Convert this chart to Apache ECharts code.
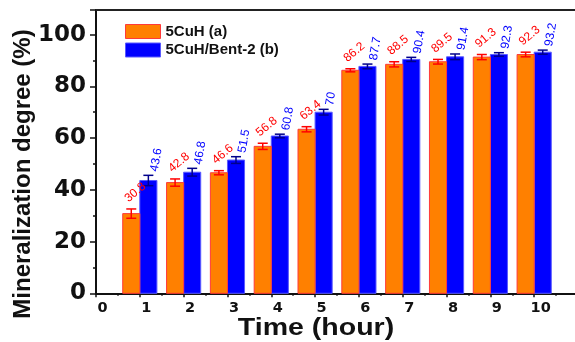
<!DOCTYPE html>
<html>
<head>
<meta charset="utf-8">
<script src="https://cdn.jsdelivr.net/npm/echarts@6/dist/echarts.min.js"></script>
<style>
  html, body { margin: 0; padding: 0; background: #fff; }
  #chart { width: 575px; height: 342px; }
</style>
</head>
<body>
<div id="chart"></div>
<script>
// Mineralization degree over time for the two catalysts
const hours = [1, 2, 3, 4, 5, 6, 7, 8, 9, 10];
const cuhValues = [30.8, 42.8, 46.6, 56.8, 63.4, 86.2, 88.5, 89.5, 91.3, 92.3];
const cuhErrors = [1.8, 1.4, 0.8, 1.2, 1.0, 0.6, 1.0, 0.9, 1.0, 0.9];
const bentValues = [43.6, 46.8, 51.5, 60.8, 70, 87.7, 90.4, 91.4, 92.3, 93.2];
const bentErrors = [2.0, 1.5, 1.3, 0.7, 1.1, 0.9, 0.8, 1.1, 0.7, 0.8];
const xTickLabels = ['0', '1', '2', '3', '4', '5', '6', '7', '8', '9', '10'];
const yTickLabels = ['0', '20', '40', '60', '80', '100'];

const seriesNames = ['5CuH (a)', '5CuH/Bent-2 (b)'];

const BAR_W = 0.39; // bar width in hours

function barRenderer(side, fill, stroke, errColor, labelColor, angleDeg, dx, dy) {
  return function (params, api) {
    const x = api.value(0), v = api.value(1), e = api.value(2);
    const base = api.coord([x, 0]);
    const top = api.coord([x, v]);
    const edge = api.coord([x + side * BAR_W, 0]);
    const left = Math.min(base[0], edge[0]);
    const w = Math.abs(edge[0] - base[0]);
    const hi = api.coord([x + side * BAR_W / 2, v + e]);
    const lo = api.coord([x + side * BAR_W / 2, v - e]);
    const cx = hi[0];
    const cap = 5;
    return {
      type: 'group',
      children: [
        { type: 'rect', shape: { x: left, y: top[1], width: w, height: base[1] - top[1] },
          style: { fill: fill, stroke: stroke, lineWidth: 1 } },
        { type: 'line', shape: { x1: cx, y1: hi[1], x2: cx, y2: lo[1] },
          style: { stroke: errColor, lineWidth: 1.5 } },
        { type: 'line', shape: { x1: cx - cap, y1: hi[1], x2: cx + cap, y2: hi[1] },
          style: { stroke: errColor, lineWidth: 1.5 } },
        { type: 'line', shape: { x1: cx - cap, y1: lo[1], x2: cx + cap, y2: lo[1] },
          style: { stroke: errColor, lineWidth: 1.5 } },
        { type: 'text', x: cx + dx, y: hi[1] + dy, rotation: angleDeg * Math.PI / 180,
          z2: 100,
          style: { text: String(v), fill: labelColor, font: '12px "Liberation Sans", Arial, sans-serif',
                   align: 'left', verticalAlign: 'middle' } }
      ]
    };
  };
}

const chart = echarts.init(document.getElementById('chart'), null, { renderer: 'canvas' });

chart.setOption({
  animation: false,
  backgroundColor: '#fff',
  grid: { left: 96, top: 10, width: 482, height: 283.3, outerBoundsMode: 'none', containLabel: false },
  legend: {
    left: 120, top: 19, orient: 'vertical',
    itemWidth: 35, itemHeight: 14, itemGap: 3.5,
    textStyle: { fontFamily: '"Liberation Sans", Arial, sans-serif', fontWeight: 'bold', fontSize: 15,
                 color: '#111', lineHeight: 14 },
    data: [
      { name: seriesNames[0], icon: 'rect', itemStyle: { color: '#FF8000', borderColor: '#FF3A3A', borderWidth: 1 } },
      { name: seriesNames[1], icon: 'rect', itemStyle: { color: '#0000FF', borderColor: '#5A5AFF', borderWidth: 1 } }
    ]
  },
  xAxis: [
    {
      type: 'value', min: 0, max: 11, interval: 1,
      axisLine: { onZero: false, lineStyle: { color: '#111', width: 2 } },
      axisTick: { show: true, inside: false, length: 4, lineStyle: { color: '#111', width: 1.5 } },
      minorTick: { show: true, splitNumber: 2, length: 2.5, lineStyle: { color: '#111', width: 1.5 } },
      splitLine: { show: false },
      axisLabel: {
        margin: 7, padding: [0, 0, 0, 13],
        fontFamily: '"DejaVu Sans", sans-serif', fontWeight: 'bold', fontSize: 14.5, color: '#111',
        formatter: function (val) { return xTickLabels[val] !== undefined ? xTickLabels[val] : ''; }
      }
    },
    {
      // plain top frame line
      type: 'value', position: 'top', min: 0, max: 11,
      axisLine: { show: true, onZero: false, lineStyle: { color: '#222', width: 2 } },
      axisTick: { show: false }, axisLabel: { show: false }, splitLine: { show: false }
    }
  ],
  yAxis: {
    type: 'value', min: 0, max: 109.5, interval: 20,
    axisLine: { show: true, onZero: false, lineStyle: { color: '#111', width: 2 } },
    axisTick: { show: true, inside: false, length: 6, lineStyle: { color: '#111', width: 1.5 } },
    minorTick: { show: true, splitNumber: 2, length: 3, lineStyle: { color: '#111', width: 1.5 } },
    splitLine: { show: false },
    axisLabel: {
      margin: 10,
      fontFamily: '"DejaVu Sans", sans-serif', fontWeight: 'bold', fontSize: 23, color: '#111',
      formatter: function (val) { return yTickLabels[val / 20] !== undefined ? yTickLabels[val / 20] : ''; }
    }
  },
  graphic: [
    { type: 'text', x: 23, y: 174, rotation: Math.PI / 2,
      style: { text: 'Mineralization degree (%)', fill: '#111',
               font: 'bold 24px "Liberation Sans", Arial, sans-serif', align: 'center', verticalAlign: 'middle' } },
    { type: 'text', x: 316, y: 329, scaleX: 1.24,
      style: { text: 'Time (hour)', fill: '#111',
               font: 'bold 23px "Liberation Sans", Arial, sans-serif', align: 'center', verticalAlign: 'middle' } }
  ],
  series: [
    {
      name: seriesNames[0], type: 'custom', z: 3, xAxisIndex: 0,
      itemStyle: { color: '#FF8000' },
      renderItem: barRenderer(-1, '#FF8000', '#FF3A3A', '#FF0000', '#FF0000', 40, -5, -9),
      data: hours.map((h, i) => [h, cuhValues[i], cuhErrors[i]])
    },
    {
      name: seriesNames[1], type: 'custom', z: 2, xAxisIndex: 0,
      itemStyle: { color: '#0000FF' },
      renderItem: barRenderer(1, '#0000FF', '#5A5AFF', '#00008B', '#0000FF', 80, 6, -4),
      data: hours.map((h, i) => [h, bentValues[i], bentErrors[i]])
    }
  ]
});
</script>
</body>
</html>
